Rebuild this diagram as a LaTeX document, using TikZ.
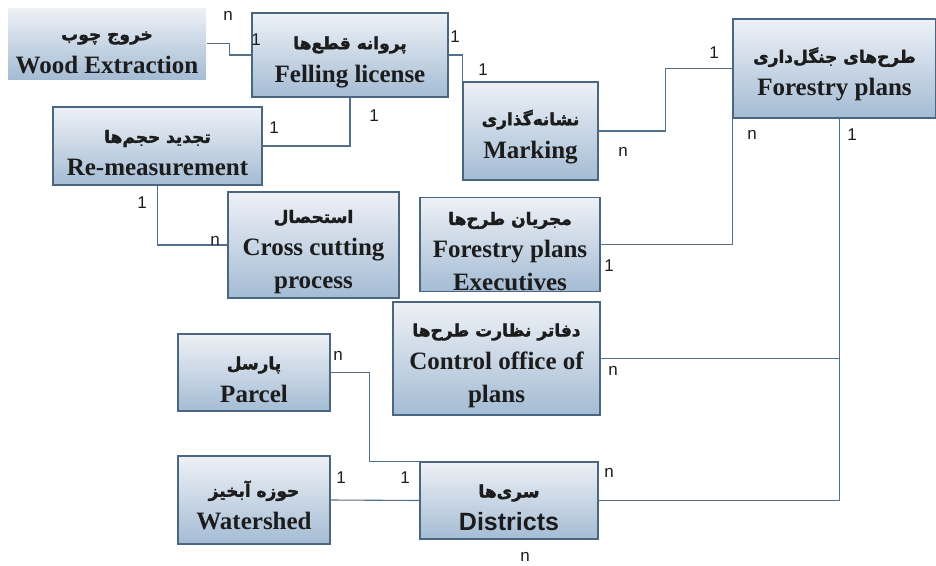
\documentclass[tikz,border=0pt]{standalone}
\usepackage{fontspec}
\setmainfont{Liberation Serif}
\newfontfamily\farsi[Script=Arabic, FakeBold=2]{DejaVu Sans}
\newfontfamily\arialfont{Liberation Sans}
\TeXXeTstate=1
\definecolor{boxtop}{HTML}{EEF1F6}
\definecolor{boxbot}{HTML}{A4BCD4}
\definecolor{boxline}{HTML}{4A6680}
\definecolor{wire}{HTML}{52708A}
\definecolor{ink}{HTML}{1C1C1C}
\newcommand{\fatxt}[1]{{\farsi\bfseries\fontsize{17}{33}\selectfont\rule{0pt}{27pt}\beginR #1\endR}}

\begin{document}
\begin{tikzpicture}[x=1pt, y=-1pt,
  ent/.style 2 args={draw=boxline, line width=1.1pt, top color=boxtop, bottom color=boxbot,
    minimum width=#1, minimum height=#2, inner sep=0pt, align=center, text=ink,
    font=\bfseries\fontsize{25}{33}\selectfont},
  card/.style={font=\arialfont\fontsize{17}{17}\selectfont, text=ink, inner sep=0pt},
  link/.style={draw=wire, line width=1.1pt}]
  \useasboundingbox (0,0) rectangle (936,565);

  \node[ent={198pt}{71pt}, draw=none] (wood) at (107,43.5) {\fatxt{خروج چوب}\\Wood Extraction};
  \node[ent={196pt}{84pt}] (fell) at (350,55) {\fatxt{پروانه قطع‌ها}\\Felling license};
  \node[ent={209pt}{78pt}] (remeas) at (157.5,146) {\fatxt{تجدید حجم‌ها}\\Re-measurement};
  \node[ent={171pt}{106pt}] (cross) at (313.5,245) {\fatxt{استحصال}\\Cross cutting\\process};
  \node[ent={135pt}{98pt}] (mark) at (530.5,131) {\fatxt{نشانه‌گذاری}\\Marking};
  \node[ent={203pt}{99pt}] (fplans) at (834.5,68.5) {\fatxt{طرح‌های جنگل‌داری}\\Forestry plans};
  \node[ent={180pt}{91pt}] (exec) at (510,244.5) {\fatxt{مجریان طرح‌ها}\\Forestry plans\\Executives};
  \node[ent={207pt}{113pt}] (ctrl) at (496.5,358.5) {\fatxt{دفاتر نظارت طرح‌ها}\\Control office of\\plans};
  \node[ent={152pt}{77pt}] (parcel) at (254,372.5) {\fatxt{پارسل}\\Parcel};
  \node[ent={152pt}{88pt}] (water) at (254,500) {\fatxt{حوزه آبخیز}\\Watershed};
  \node[ent={178pt}{77pt}] (dist) at (509,500.5) {\fatxt{سری‌ها}\\{\arialfont Districts}};

  \coordinate (trunk) at ([xshift=5pt]fplans.south);

  \draw[link] (wood.east) -- ++(23,0) |- (fell.west);
  \draw[link] (fell.south) |- (remeas.east);
  \draw[link] (fell.east) -| (mark.north west);
  \draw[link] (remeas.south) |- (cross.west);
  \draw[link] (mark.east) -- ++(67,0) |- (fplans.west);
  \draw[link] (fplans.south west) |- (exec.east);
  \draw[link] (trunk) |- (dist.east);
  \draw[link] (ctrl.east) -- (ctrl.east -| trunk);
  \draw[link] (parcel.east) -- ++(39,0) |- (dist.north west);
  \draw[link] (water.east) -- (dist.west);

  \node[card] (k1) at (228,16) {n};
  \node[card] (k2) at (256,40) {1};
  \node[card] (k3) at (374,116) {1};
  \node[card] (k4) at (274,128) {1};
  \node[card] (k5) at (455,37) {1};
  \node[card] (k6) at (483,70) {1};
  \node[card] (k7) at (623,152) {n};
  \node[card] (k8) at (714,53) {1};
  \node[card] (k9) at (752,135) {n};
  \node[card] (k10) at (852,135) {1};
  \node[card] (k11) at (142,203) {1};
  \node[card] (k12) at (215,241) {n};
  \node[card] (k13) at (609,266) {1};
  \node[card] (k14) at (613,371) {n};
  \node[card] (k15) at (338,356) {n};
  \node[card] (k16) at (341,478) {1};
  \node[card] (k17) at (405,478) {1};
  \node[card] (k18) at (609,473) {n};
  \node[card] (k19) at (525,557) {n};
\end{tikzpicture}
\end{document}
